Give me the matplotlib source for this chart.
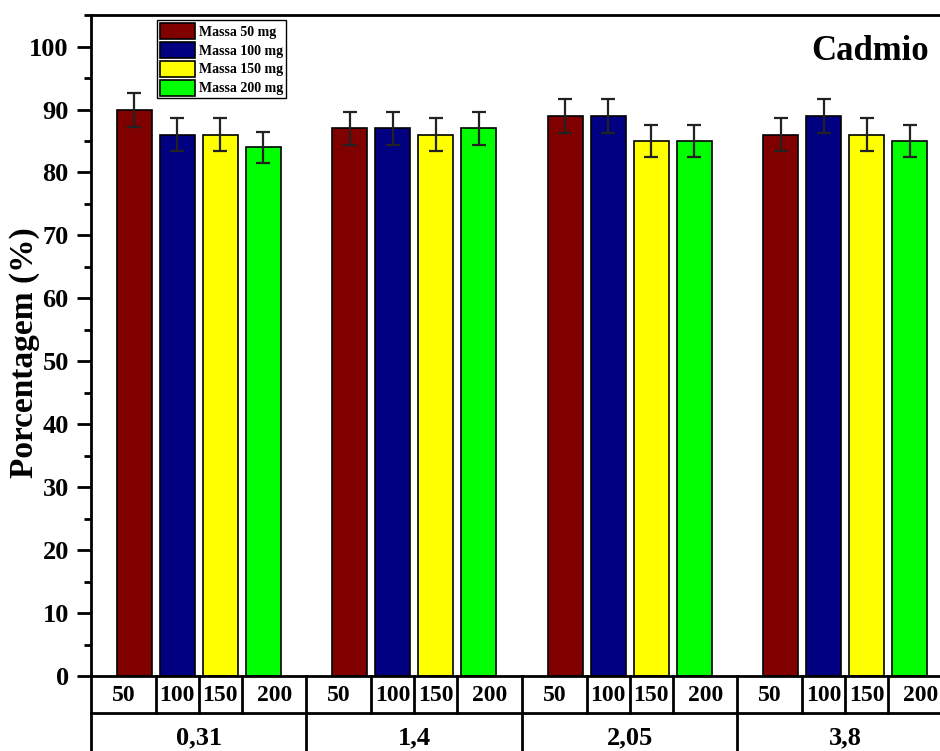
import numpy as np
import matplotlib.pyplot as plt
from matplotlib.patches import Patch
from matplotlib.ticker import MultipleLocator

plt.rcParams["font.family"] = ["Liberation Serif", "DejaVu Serif"]
plt.rcParams["font.weight"] = "bold"

# Adsorption data (Cd) for each initial concentration and adsorbent mass
concentracoes = ["0,31", "1,4", "2,05", "3,8"]
massas = ["50", "100", "150", "200"]
legendas = ["Massa 50 mg", "Massa 100 mg", "Massa 150 mg", "Massa 200 mg"]
cores = ["#800000", "#000080", "#FFFF00", "#00FF00"]

# rows: mass, columns: concentration
valores = [
    [90, 87, 89, 86],
    [86, 87, 89, 89],
    [86, 86, 85, 86],
    [84, 87, 85, 85],
]
erros = [
    [2.7, 2.6, 2.7, 2.6],
    [2.6, 2.6, 2.7, 2.7],
    [2.6, 2.6, 2.5, 2.6],
    [2.5, 2.6, 2.5, 2.5],
]

fig = plt.figure(figsize=(9.4, 7.51), dpi=100)
ax = fig.add_axes([0.0968, 0.0999, 0.917, 0.880])

x = np.arange(len(concentracoes))
offsets = [-0.3, -0.1, 0.1, 0.3]
largura = 0.163

for i in range(len(massas)):
    ax.bar(x + offsets[i], valores[i], largura, color=cores[i],
           edgecolor="black", linewidth=1.2, zorder=2)
    ax.errorbar(x + offsets[i], valores[i], yerr=erros[i], fmt="none",
                ecolor="#222222", elinewidth=1.6, capsize=5, capthick=1.6,
                zorder=3)

ax.set_xlim(-0.5, 3.5)
ax.set_ylim(0, 105)
ax.yaxis.set_major_locator(MultipleLocator(10))
ax.yaxis.set_minor_locator(MultipleLocator(5))
ax.tick_params(axis="y", which="major", length=10, width=2, labelsize=19, pad=6)
ax.tick_params(axis="y", which="minor", length=5, width=2)
ax.tick_params(axis="x", which="both", bottom=False, labelbottom=False)
for s in ax.spines.values():
    s.set_linewidth(2)

ax.set_ylabel("Porcentagem (%)", fontsize=24, fontweight="bold")
ax.yaxis.set_label_coords(-0.059, 0.49)

ax.text(0.904, 0.945, "Cadmio", transform=ax.transAxes, ha="center",
        va="center", fontsize=25, fontweight="bold")

# table of categories under the x axis
trans = ax.get_xaxis_transform()
linha1 = -0.056
linha2 = -0.2
ax.plot([-0.5, 3.5], [linha1, linha1], transform=trans, color="black",
        lw=2, clip_on=False)
for b in np.arange(-0.5, 4.0, 1.0):
    ax.plot([b, b], [0, linha2], transform=trans, color="black", lw=2,
            clip_on=False)
for g in x:
    for d in [-0.2, 0.0, 0.2]:
        ax.plot([g + d, g + d], [0, linha1], transform=trans, color="black",
                lw=2, clip_on=False)
    centros = [-0.35, -0.1, 0.1, 0.35]
    for c, m in zip(centros, massas):
        ax.text(g + c, -0.029, m, transform=trans, ha="center", va="center",
                fontsize=17, fontweight="bold")
    ax.text(g, -0.094, concentracoes[g], transform=trans, ha="center",
            va="center", fontsize=19, fontweight="bold")

handles = [Patch(facecolor=c, edgecolor="black", linewidth=1.2) for c in cores]
leg = ax.legend(handles, legendas, loc="upper left",
                bbox_to_anchor=(0.0766, 0.992), borderaxespad=0,
                fontsize=10, handlelength=2.5, handleheight=1.4,
                labelspacing=0.2, handletextpad=0.3, borderpad=0.2,
                fancybox=False, framealpha=1)
leg.get_frame().set_edgecolor("black")
leg.get_frame().set_linewidth(1)

fig.savefig("out.png", dpi=100)
